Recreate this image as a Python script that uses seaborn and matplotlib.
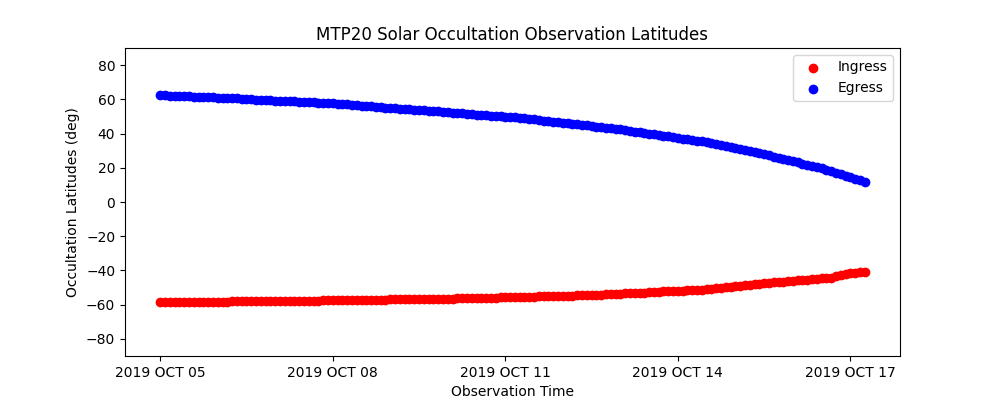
import matplotlib
matplotlib.use("Agg")
import matplotlib.pyplot as plt
import matplotlib.dates as mdates
import matplotlib.ticker as mticker
import seaborn as sns
import pandas as pd

# ---- data -------------------------------------------------------------
start_time = "2019-10-05 00:00"
obs_interval = "2h"          # one occultation per orbit

ingress_lat = [
    -58.6, -58.6, -58.5, -58.5, -58.5, -58.4, -58.4, -58.4, -58.3, -58.3,
    -58.3, -58.3, -58.2, -58.2, -58.2, -58.1, -58.1, -58.1, -58.0, -58.0,
    -58.0, -57.9, -57.9, -57.9, -57.9, -57.8, -57.8, -57.8, -57.7, -57.7,
    -57.7, -57.6, -57.6, -57.6, -57.5, -57.5, -57.5, -57.4, -57.4, -57.3,
    -57.3, -57.2, -57.2, -57.1, -57.1, -57.1, -57.0, -57.0, -56.9, -56.9,
    -56.8, -56.8, -56.8, -56.7, -56.7, -56.6, -56.6, -56.5, -56.5, -56.4,
    -56.4, -56.4, -56.3, -56.3, -56.2, -56.2, -56.1, -56.1, -56.0, -56.0,
    -55.9, -55.8, -55.8, -55.7, -55.6, -55.5, -55.5, -55.4, -55.3, -55.2,
    -55.2, -55.1, -55.0, -54.9, -54.9, -54.8, -54.7, -54.6, -54.6, -54.5,
    -54.4, -54.3, -54.1, -54.0, -53.8, -53.7, -53.6, -53.4, -53.3, -53.1,
    -53.0, -52.9, -52.7, -52.6, -52.5, -52.3, -52.2, -52.0, -51.9, -51.8,
    -51.6, -51.5, -51.3, -51.2, -50.9, -50.6, -50.4, -50.1, -49.8, -49.5,
    -49.3, -49.0, -48.7, -48.4, -48.1, -47.9, -47.6, -47.3, -47.0, -46.8,
    -46.5, -46.2, -46.0, -45.8, -45.6, -45.4, -45.2, -44.9, -44.7, -44.5,
    -44.3, -43.4, -42.5, -42.0, -41.7, -41.4, -41.1, -40.8,
]

egress_lat = [
    62.5, 62.4, 62.2, 62.1, 62.0, 61.9, 61.7, 61.6, 61.5, 61.3,
    61.2, 61.1, 61.0, 60.8, 60.7, 60.6, 60.5, 60.3, 60.2, 60.1,
    59.9, 59.8, 59.6, 59.5, 59.3, 59.2, 59.0, 58.9, 58.8, 58.6,
    58.5, 58.3, 58.2, 58.0, 57.9, 57.7, 57.6, 57.4, 57.2, 57.0,
    56.7, 56.5, 56.3, 56.1, 55.9, 55.7, 55.4, 55.2, 55.0, 54.8,
    54.6, 54.4, 54.2, 53.9, 53.7, 53.5, 53.3, 53.1, 52.9, 52.7,
    52.4, 52.2, 52.0, 51.8, 51.6, 51.4, 51.1, 50.9, 50.7, 50.5,
    50.3, 50.1, 49.9, 49.6, 49.4, 49.2, 48.9, 48.6, 48.3, 47.9,
    47.6, 47.3, 47.0, 46.7, 46.4, 46.0, 45.7, 45.4, 45.1, 44.8,
    44.5, 44.1, 43.8, 43.5, 43.2, 42.8, 42.4, 42.0, 41.6, 41.2,
    40.8, 40.4, 40.0, 39.6, 39.2, 38.7, 38.3, 37.9, 37.5, 37.1,
    36.7, 36.3, 35.9, 35.5, 34.9, 34.4, 33.8, 33.2, 32.6, 32.1,
    31.5, 30.9, 30.3, 29.8, 29.2, 28.6, 27.9, 27.2, 26.5, 25.9,
    25.2, 24.5, 23.8, 23.1, 22.4, 21.8, 21.1, 20.4, 19.7, 18.8,
    17.9, 17.1, 16.2, 15.3, 14.4, 13.5, 12.7, 11.8,
]

tick_dates = ["2019-10-05", "2019-10-08", "2019-10-11", "2019-10-14", "2019-10-17"]
tick_labels = ["2019 OCT 05", "2019 OCT 08", "2019 OCT 11", "2019 OCT 14", "2019 OCT 17"]
y_ticks = [-80, -60, -40, -20, 0, 20, 40, 60, 80]

# ---- build frame --------------------------------------------------------
times = pd.date_range(start=start_time, periods=len(egress_lat), freq=obs_interval)
df = pd.DataFrame({"time": times, "Ingress": ingress_lat, "Egress": egress_lat})

# ---- plot ---------------------------------------------------------------
fig, ax = plt.subplots(figsize=(10, 4), dpi=100)

sns.scatterplot(data=df, x="time", y="Ingress", color="red", label="Ingress",
                s=36, edgecolor="face", linewidth=1.0, ax=ax)
sns.scatterplot(data=df, x="time", y="Egress", color="blue", label="Egress",
                s=36, edgecolor="face", linewidth=1.0, ax=ax)

ax.set_ylim(-90, 90)
ax.set_yticks(y_ticks)
ax.set_xticks(mdates.date2num(pd.to_datetime(tick_dates)))
ax.set_xticklabels(tick_labels)

ax.set_title("MTP20 Solar Occultation Observation Latitudes")
ax.set_xlabel("Observation Time")
ax.set_ylabel("Occultation Latitudes (deg)")
ax.legend(loc="upper right")

fig.savefig("out.png", dpi=100)
